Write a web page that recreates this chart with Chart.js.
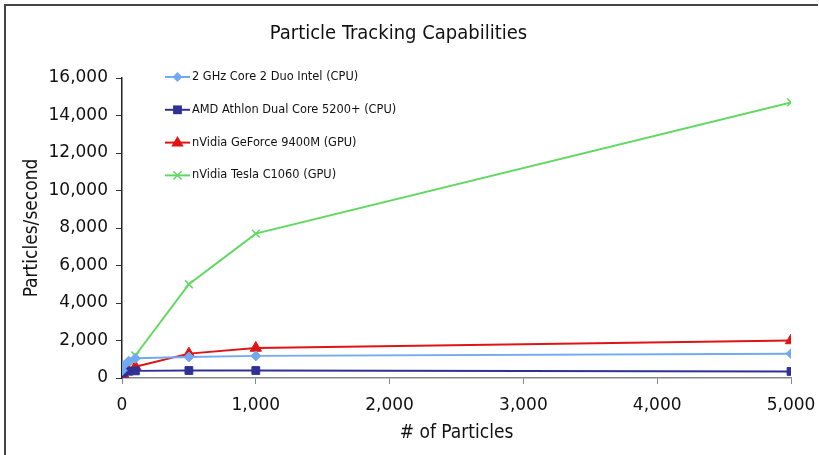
<!DOCTYPE html>
<html>
<head>
<meta charset="utf-8">
<script src="https://cdn.jsdelivr.net/npm/chart.js@4/dist/chart.umd.min.js"></script>
<style>
  html, body { margin: 0; padding: 0; background: #fff; }
  canvas { display: block; }
</style>
</head>
<body>
<canvas id="c" width="819" height="455"></canvas>
<script>
// Number of particles tracked
const particleCounts = [1, 10, 50, 100, 500, 1000, 5000];

// Throughput (particles/second) per device
const intelCore2Duo = [400, 650, 900, 1050, 1120, 1180, 1300];
const amdAthlon     = [250, 330, 360, 380, 400, 400, 350];
const geforce9400M  = [60, 200, 380, 600, 1300, 1600, 2000];
const teslaC1060    = [10, 150, 600, 1200, 5000, 7700, 14700];

const seriesLabels = [
  '2 GHz Core 2 Duo Intel (CPU)',
  'AMD Athlon Dual Core 5200+ (CPU)',
  'nVidia GeForce 9400M (GPU)',
  'nVidia Tesla C1060 (GPU)'
];

const xTicks = [0, 1000, 2000, 3000, 4000, 5000];
const yMax = 16000;

const toPoints = ys => particleCounts.map((x, i) => ({ x, y: ys[i] }));

const tickFont = { family: 'DejaVu Sans, Verdana, sans-serif', size: 17 };
const titleFamily = '"DejaVu Sans Condensed", "DejaVu Sans", sans-serif';

function marker(ctx, style, x, y, r, color) {
  ctx.save();
  ctx.fillStyle = color;
  ctx.strokeStyle = color;
  ctx.lineWidth = 1.5;
  ctx.beginPath();
  if (style === 'rectRot') {
    ctx.moveTo(x, y - r); ctx.lineTo(x + r, y); ctx.lineTo(x, y + r); ctx.lineTo(x - r, y);
    ctx.closePath(); ctx.fill();
  } else if (style === 'rect') {
    ctx.rect(x - r * 0.8, y - r * 0.8, r * 1.6, r * 1.6); ctx.fill();
  } else if (style === 'triangle') {
    ctx.moveTo(x, y - r); ctx.lineTo(x + r * 0.95, y + r * 0.6); ctx.lineTo(x - r * 0.95, y + r * 0.6);
    ctx.closePath(); ctx.fill();
  } else {
    const d = r * 0.75;
    ctx.moveTo(x - d, y - d); ctx.lineTo(x + d, y + d);
    ctx.moveTo(x + d, y - d); ctx.lineTo(x - d, y + d);
    ctx.stroke();
  }
  ctx.restore();
}

// Frame and white background
const framePlugin = {
  id: 'frame',
  beforeDraw(chart) {
    const ctx = chart.ctx;
    ctx.save();
    ctx.fillStyle = '#fff';
    ctx.fillRect(0, 0, chart.width, chart.height);
    ctx.strokeStyle = '#444';
    ctx.lineWidth = 2;
    ctx.beginPath();
    ctx.moveTo(5, chart.height);
    ctx.lineTo(5, 5);
    ctx.lineTo(chart.width - 1, 5);
    ctx.stroke();
    ctx.restore();
  }
};

// Legend drawn inside the plot area, top left
const innerLegend = {
  id: 'innerLegend',
  afterDraw(chart) {
    const ctx = chart.ctx;
    const area = chart.chartArea;
    const x0 = area.left + 43;
    chart.data.datasets.forEach((ds, i) => {
      const y = area.top - 1 + i * 32.8;
      ctx.save();
      ctx.strokeStyle = ds.borderColor;
      ctx.lineWidth = 2;
      ctx.beginPath();
      ctx.moveTo(x0, y);
      ctx.lineTo(x0 + 25, y);
      ctx.stroke();
      marker(ctx, ds.pointStyle, x0 + 12.5, y, ds.pointRadius, ds.borderColor);
      ctx.fillStyle = '#111';
      ctx.font = '11.4px "DejaVu Sans", Verdana, sans-serif';
      ctx.textBaseline = 'middle';
      ctx.fillText(ds.label, x0 + 27, y);
      ctx.restore();
    });
  }
};

const colors = ['#72a9f2', '#2f3195', '#e01414', '#62d862'];
const styles = ['rectRot', 'rect', 'triangle', 'crossRot'];
const radii  = [5, 5.5, 6.5, 5.5];
const seriesData = [intelCore2Duo, amdAthlon, geforce9400M, teslaC1060];

new Chart(document.getElementById('c'), {
  type: 'line',
  data: {
    datasets: seriesData.map((ys, i) => ({
      label: seriesLabels[i],
      data: toPoints(ys),
      borderColor: colors[i],
      backgroundColor: colors[i],
      borderWidth: 2,
      pointStyle: styles[i],
      pointRadius: radii[i],
      pointBorderWidth: styles[i] === 'crossRot' ? 1.5 : 1,
      tension: 0
    }))
  },
  options: {
    responsive: false,
    animation: false,
    devicePixelRatio: 1,
    layout: { padding: { left: 6, right: 28, top: 4, bottom: 6 } },
    plugins: {
      legend: { display: false },
      tooltip: { enabled: false },
      title: {
        display: true,
        text: 'Particle Tracking Capabilities',
        color: '#111',
        font: { family: titleFamily, size: 20, weight: 'normal' },
        padding: { top: 18, bottom: 32 }
      }
    },
    scales: {
      x: {
        type: 'linear',
        min: 0,
        max: 5000,
        afterBuildTicks(scale) { scale.ticks = xTicks.map(v => ({ value: v })); },
        ticks: { color: '#111', font: tickFont, padding: 11, maxRotation: 0 },
        grid: { drawOnChartArea: false, drawTicks: true, tickLength: 6, color: '#888' },
        border: { display: true, color: '#888', width: 1.5 },
        title: {
          display: true,
          text: '# of Particles',
          color: '#111',
          font: { family: titleFamily, size: 19 },
          padding: { top: 4, bottom: 4.6 }
        },
        afterFit(scale) {
          scale.height = 71;
          scale.paddingLeft = 0;
          scale.paddingRight = 0;
        }
      },
      y: {
        type: 'linear',
        min: 0,
        max: yMax,
        ticks: { stepSize: 2000, color: '#111', font: tickFont, padding: 8 },
        grid: { drawOnChartArea: false, drawTicks: true, tickLength: 6, color: '#333' },
        border: { display: true, color: '#222', width: 1.5 },
        title: {
          display: true,
          text: 'Particles/second',
          color: '#111',
          font: { family: titleFamily, size: 19 },
          padding: { top: 14.6, bottom: 4 }
        },
        afterFit(scale) {
          scale.width = 116;
          scale.paddingTop = 0;
          scale.paddingBottom = 0;
        }
      }
    }
  },
  plugins: [framePlugin, innerLegend]
});
</script>
</body>
</html>
